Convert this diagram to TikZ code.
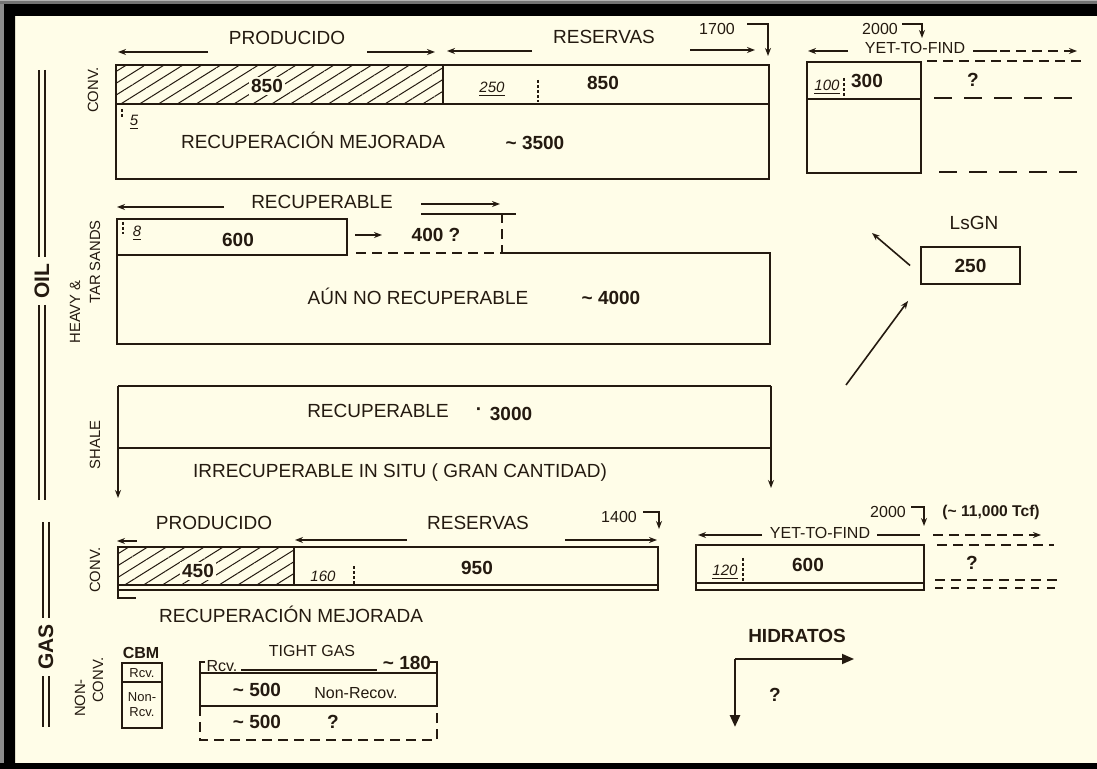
\documentclass[tikz,border=0pt]{standalone}
\usepackage{fontspec}
\setmainfont{Liberation Sans}
\usetikzlibrary{arrows.meta, patterns.meta, positioning}
\definecolor{paper}{RGB}{255,253,232}
\definecolor{inkc}{RGB}{36,26,16}
\newcommand{\apx}{\textasciitilde\ }
\tikzset{
  box/.style = {
    draw = inkc,
    line width = 0.95pt
  },
  dashbox/.style = {
    draw = inkc,
    line width = 0.9pt,
    dash pattern = on 5pt off 3pt
  },
  sep/.style = {
    draw = inkc,
    line width = 0.6pt,
    dash pattern = on 1.5pt off 1pt
  },
  hatch/.style = {
    pattern = {Lines[angle = 32, distance = 5pt, line width = 0.5pt]},
    pattern color = inkc
  },
  rail/.style = {
    draw = inkc,
    line width = 0.7pt,
    double = paper,
    double distance = 2.2pt
  },
  dimarrow/.style = {
    -{Stealth[open, length = 4pt, width = 3pt]},
    draw = inkc,
    line width = 0.8pt
  },
  dimfill/.style = {
    -{Stealth[length = 4pt, width = 3pt]},
    draw = inkc,
    line width = 0.8pt
  },
  bigarrow/.style = {
    -{Triangle[length = 6pt, width = 5pt]},
    draw = inkc,
    line width = 0.9pt
  },
  lab/.style = {
    text = inkc,
    inner sep = 1pt,
    font = \fontsize{9.5}{11}\selectfont
  },
  num/.style = {
    text = inkc,
    inner sep = 1pt,
    font = \bfseries\fontsize{9.5}{11}\selectfont
  },
  sml/.style = {
    text = inkc,
    inner sep = 1pt,
    font = \itshape\fontsize{7.5}{9}\selectfont
  },
  note/.style = {
    text = inkc,
    inner sep = 1pt,
    font = \fontsize{8}{9}\selectfont
  },
  sidetag/.style = {
    text = inkc,
    rotate = 90,
    inner sep = 1pt,
    font = \fontsize{7.4}{8}\selectfont
  },
  bigtag/.style = {
    text = inkc,
    rotate = 90,
    inner sep = 3pt,
    font = \bfseries\fontsize{10.5}{12}\selectfont
  }
}

\begin{document}
\begin{tikzpicture}[x = 0.5pt, y = -0.5pt]
  % Marco.
  \useasboundingbox (0,0) rectangle (1097,769);
  \fill[paper] (0,0) rectangle (1097,769);
  \fill[black, even odd rule] (0,0) rectangle (1097,769) (15,16) rectangle (1097,763);
  \fill[black!55] (0,0) rectangle (1097,4);
  \fill[black!30] (0,0) rectangle (1097,1.5);
  \fill[black!45] (0,4) rectangle (4,763);

  % Rieles OIL y GAS.
  \node[bigtag] (OIL) at (42,281) {OIL};
  \draw[rail] (42,70) -- (OIL.east);
  \draw[rail] (OIL.west) -- (42,500);
  \node[bigtag] (GAS) at (46,647) {GAS};
  \draw[rail] (46,522) -- (GAS.east);
  \draw[rail] (GAS.west) -- (46,727);

  % Oil convencional.
  \node[sidetag] (OCt) at (93,90) {CONV.};
  \node[lab] (OPr) at (287,38) {PRODUCIDO};
  \draw[dimarrow] (208,52) -- (118,52);
  \draw[dimarrow] (367,52) -- (435,52);
  \node[lab] (ORe) at (604,37) {RESERVAS};
  \draw[dimarrow] (532,51) -- (447,51);
  \draw[dimarrow] (690,50) -- (755,50);
  \node[note] (O17) at (717,29) {1700};
  \draw[dimfill] (747,24) -- (768,24) -- (768,56);
  \fill[hatch] (116,65) rectangle (443,104);
  \draw[box] (116,65) rectangle (769,179);
  \draw[box] (116,104) -- (769,104) (443,65) -- (443,104);
  \node[num, fill = paper] (OC1) at (267,86) {850};
  \draw[sep] (122,109) -- (122,118);
  \node[sml] (OC5) at (134,122) {\underline{5}};
  \node[sml] (OC2) at (492,89) {\underline{250}};
  \draw[sep] (538,80) -- (538,102);
  \node[num] (OC3) at (603,83) {850};
  \node[lab] (OCm) at (313,140) {RECUPERACIÓN MEJORADA};
  \node[num] (OC4) at (535,143) {\apx3500};

  % Oil por descubrir.
  \node[note] (OY2) at (880,29) {2000};
  \draw[dimfill] (902,24) -- (922,24) -- (922,38);
  \node[note] (OYt) at (915,48) {YET-TO-FIND};
  \draw[dimarrow] (848,51) -- (808,51);
  \draw[box, line width = 0.8pt] (973,51) -- (997,51);
  \draw[dimarrow, dash pattern = on 5pt off 3pt] (1000,51) -- (1077,51);
  \draw[box] (807,62) rectangle (921,173);
  \draw[box] (807,99) -- (921,99);
  \node[sml] (OY1) at (827,87) {\underline{100}};
  \draw[sep] (844,78) -- (844,99);
  \node[num] (OY3) at (867,81) {300};
  \node[num] (OYq) at (973,80) {?};
  \draw[dashbox] (927,61) -- (1086,61);
  \draw[dashbox, dash pattern = on 9pt off 6pt] (934,98) -- (1080,98);
  \draw[dashbox, dash pattern = on 9pt off 6pt] (939,172) -- (1086,172);

  % Oil pesado y arenas.
  \node[sidetag] (OHh) at (75,312) {HEAVY \&};
  \node[sidetag] (OHs) at (95,262) {TAR SANDS};
  \node[lab] (OHr) at (322,202) {RECUPERABLE};
  \draw[dimarrow] (224,207) -- (117,207);
  \draw[dimfill] (421,204) -- (500,204);
  \draw[box, line width = 0.8pt] (421,214) -- (516,214);
  \draw[box] (117,219) rectangle (347,255);
  \draw[box] (117,255) -- (117,344) -- (770,344) -- (770,253) -- (502,253);
  \draw[dashbox] (356,253) -- (502,253) -- (502,214);
  \draw[sep] (123,222) -- (123,234);
  \node[sml] (OH8) at (137,233) {\underline{8}};
  \node[num] (OH6) at (238,240) {600};
  \draw[dimarrow] (355,235) -- (382,235);
  \node[num] (OH4) at (436,235) {400 ?};
  \node[lab] (OHn) at (418,296) {AÚN NO RECUPERABLE};
  \node[num] (OH5) at (611,298) {\apx4000};

  % LsGN.
  \node[lab] (Lt) at (974,223) {LsGN};
  \node[num, box, minimum width = 49.5pt, minimum height = 18.5pt] (Ls) at (970.5,265.5) {250};
  \draw[dimarrow] ([xshift = -5pt]Ls.west) -- (872,233);
  \draw[dimarrow] (846,385) -- ([xshift = -6pt, yshift = -8pt]Ls.south west);

  % Shale.
  \node[sidetag] (OSt) at (95,445) {SHALE};
  \draw[box] (118,386) -- (771,386) (118,448) -- (771,448);
  \draw[dimfill] (118,386) -- (118,498);
  \draw[dimfill] (771,386) -- (771,488);
  \node[lab] (OSr) at (378,411) {RECUPERABLE};
  \node[num] (OSd) at (479,412) {·};
  \node[num] (OS3) at (511,414) {3000};
  \node[lab] (OSi) at (400,473) {IRRECUPERABLE IN SITU ( GRAN CANTIDAD)};

  % Gas convencional.
  \node[sidetag] (GCt) at (95,570) {CONV.};
  \node[lab] (GPr) at (214,523) {PRODUCIDO};
  \draw[dimarrow] (137,541) -- (117,541);
  \node[lab] (GRe) at (478,523) {RESERVAS};
  \draw[dimarrow] (407,540) -- (295,540);
  \draw[dimarrow] (565,540) -- (657,540);
  \node[note] (G14) at (619,517) {1400};
  \draw[dimarrow] (643,512) -- (659,512) -- (659,529);
  \fill[hatch] (118,547) rectangle (294,585);
  \draw[box] (118,547) rectangle (658,590);
  \draw[box] (118,585) -- (658,585) (294,547) -- (294,585);
  \draw[box, line width = 0.7pt] (118,590) -- (118,598) -- (136,598);
  \node[num, fill = paper] (GC4) at (198,571) {450};
  \node[sml] (GC1) at (323,578) {\underline{160}};
  \draw[sep] (354,566) -- (354,585);
  \node[num] (GC9) at (477,568) {950};
  \node[lab] (GCm) at (291,614) {RECUPERACIÓN MEJORADA};

  % Gas por descubrir.
  \node[note] (GY2) at (888,512) {2000};
  \draw[dimarrow] (911,507) -- (924,507) -- (924,526);
  \node[note, font = \bfseries\fontsize{7.8}{9}\selectfont] (GYc) at (991,512) {(\apx11,000 Tcf)};
  \node[note] (GYt) at (820,533) {YET-TO-FIND};
  \draw[dimarrow] (762,535) -- (698,535);
  \draw[box, line width = 0.8pt] (877,535) -- (920,535);
  \draw[dimfill, dash pattern = on 5pt off 3pt] (933,535) -- (1041,535);
  \draw[dashbox] (937,545) -- (1054,545);
  \draw[box] (696,545) rectangle (924,590);
  \draw[box] (696,583) -- (924,583);
  \node[sml] (GY1) at (725,572) {\underline{120}};
  \draw[sep] (743,558) -- (743,583);
  \node[num] (GY6) at (808,565) {600};
  \node[num] (GYq) at (972,563) {?};
  \draw[dashbox] (935,580) -- (1059,580);
  \draw[dashbox, dash pattern = on 4pt off 4pt] (935,588) -- (1059,588);

  % Gas no convencional.
  \node[sidetag] (GNn) at (80,698) {NON-};
  \node[sidetag] (GNc) at (98,680) {CONV.};
  \node[note, font = \bfseries\fontsize{8}{9}\selectfont] (CBM) at (141,653) {CBM};
  \draw[box] (122,663) rectangle (162,728);
  \draw[box] (122,682) -- (162,682);
  \node[note, font = \fontsize{6.5}{7}\selectfont] (CBr) at (142,673) {Rcv.};
  \node[note, font = \fontsize{6.5}{7.5}\selectfont, align = center] (CBn) at (142,705) {Non-\\Rcv.};
  \node[note] (TGt) at (312,651) {TIGHT GAS};
  \draw[box, line width = 0.7pt] (205,662) -- (200,662) -- (200,672);
  \node[note] (TGr) at (222,666) {Rcv.};
  \draw[box, line width = 0.7pt] (241,670) -- (377,670);
  \node[num] (TG1) at (407,663) {\apx180};
  \draw[box, line width = 0.7pt] (430,662) -- (437,662) -- (437,673);
  \draw[box] (200,673) rectangle (437,706);
  \node[num] (TG5) at (257,690) {\apx500};
  \node[note] (TGn) at (356,693) {Non-Recov.};
  \draw[dashbox] (200,706) -- (200,740) -- (437,740) -- (437,706);
  \node[num] (TG6) at (257,722) {\apx500};
  \node[num] (TGq) at (333,722) {?};

  % Hidratos.
  \node[num] (HId) at (797,636) {HIDRATOS};
  \coordinate (Hc) at (735,659);
  \draw[bigarrow] (Hc) -- (854,659);
  \draw[bigarrow, line width = 1.3pt] (Hc) -- (735,727);
  \node[num] (HIq) at (775,695) {?};
\end{tikzpicture}
\end{document}
